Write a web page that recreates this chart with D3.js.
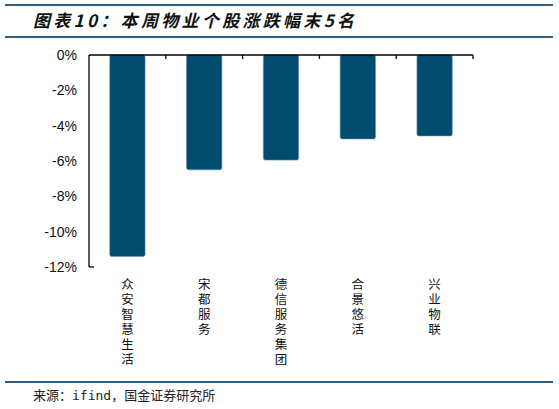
<!DOCTYPE html>
<html>
<head>
<meta charset="utf-8">
<script src="https://cdn.jsdelivr.net/npm/d3@7"></script>
<style>
  body { margin: 0; background: #fff; }
  svg { display: block; }
</style>
</head>
<body>
<div id="chart"></div>
<script>
// 数据
const categories = ["众安智慧生活", "宋都服务", "德信服务集团", "合景悠活", "兴业物联"];
const changes = [-11.4, -6.5, -5.95, -4.75, -4.58];
const yTicks = [0, -2, -4, -6, -8, -10, -12];
const title = "图表10：本周物业个股涨跌幅末5名";
const source = "来源：ifind，国金证券研究所";

const W = 559, H = 409;
const svg = d3.select("#chart").append("svg").attr("width", W).attr("height", H);

// 标题和分隔线
const lineColor = "#2b5f80";
[5, 37, 382].forEach(yy => {
  svg.append("line").attr("x1", 5).attr("x2", 553).attr("y1", yy).attr("y2", yy)
    .attr("stroke", lineColor).attr("stroke-width", 2);
});
svg.append("text").attr("x", 33).attr("y", 27)
  .attr("font-family", "'Noto Sans CJK SC', sans-serif")
  .attr("font-size", 17).attr("font-weight", "bold").attr("font-style", "italic")
  .attr("textLength", 321).attr("lengthAdjust", "spacing")
  .attr("fill", "#111").text(title);

svg.append("text").attr("x", 33).attr("y", 400)
  .attr("font-family", "'DejaVu Sans Mono', 'Noto Sans CJK SC', monospace")
  .attr("font-size", 13).attr("fill", "#222").text(source);

// 比例尺
const x = d3.scaleBand().domain(categories).range([89, 473]).paddingInner(0.54).paddingOuter(0.27);
const y = d3.scaleLinear().domain([-12, 0]).range([267, 55]);

// 柱子
svg.selectAll(".bar").data(categories).enter().append("rect")
  .attr("x", d => x(d))
  .attr("width", x.bandwidth())
  .attr("y", y(0))
  .attr("height", (d, i) => y(changes[i]) - y(0))
  .attr("rx", 2)
  .attr("fill", "#014b6f")
  .attr("stroke", "#5f8eaa").attr("stroke-width", 0.6);

// 坐标轴
const ax = svg.append("g").attr("stroke", "#000").attr("stroke-width", 1.3);
ax.append("line").attr("x1", 89).attr("x2", 473).attr("y1", y(0)).attr("y2", y(0));
ax.append("line").attr("x1", 89).attr("x2", 89).attr("y1", y(0)).attr("y2", y(-12));
ax.append("line").attr("x1", 89).attr("x2", 94).attr("y1", y(-12)).attr("y2", y(-12));
const step = (473 - 89) / categories.length;
d3.range(1, categories.length + 1).forEach(i => {
  ax.append("line").attr("x1", 89 + i * step).attr("x2", 89 + i * step)
    .attr("y1", y(0)).attr("y2", y(0) + 4);
});

svg.selectAll(".ylab").data(yTicks).enter().append("text")
  .attr("x", 77).attr("y", d => y(d) + 5)
  .attr("text-anchor", "end")
  .attr("font-family", "'Liberation Sans', Arial, sans-serif")
  .attr("font-size", 14).attr("fill", "#111")
  .text(d => d + "%");

// 竖排类别标签
svg.selectAll(".xlab").data(categories).enter().append("text")
  .attr("x", d => x(d) + x.bandwidth() / 2)
  .attr("y", 278)
  .style("writing-mode", "vertical-rl")
  .style("letter-spacing", "2.5px")
  .attr("font-family", "'Noto Sans CJK SC', sans-serif")
  .attr("font-size", 12.5).attr("fill", "#111")
  .text(d => d);
</script>
</body>
</html>
